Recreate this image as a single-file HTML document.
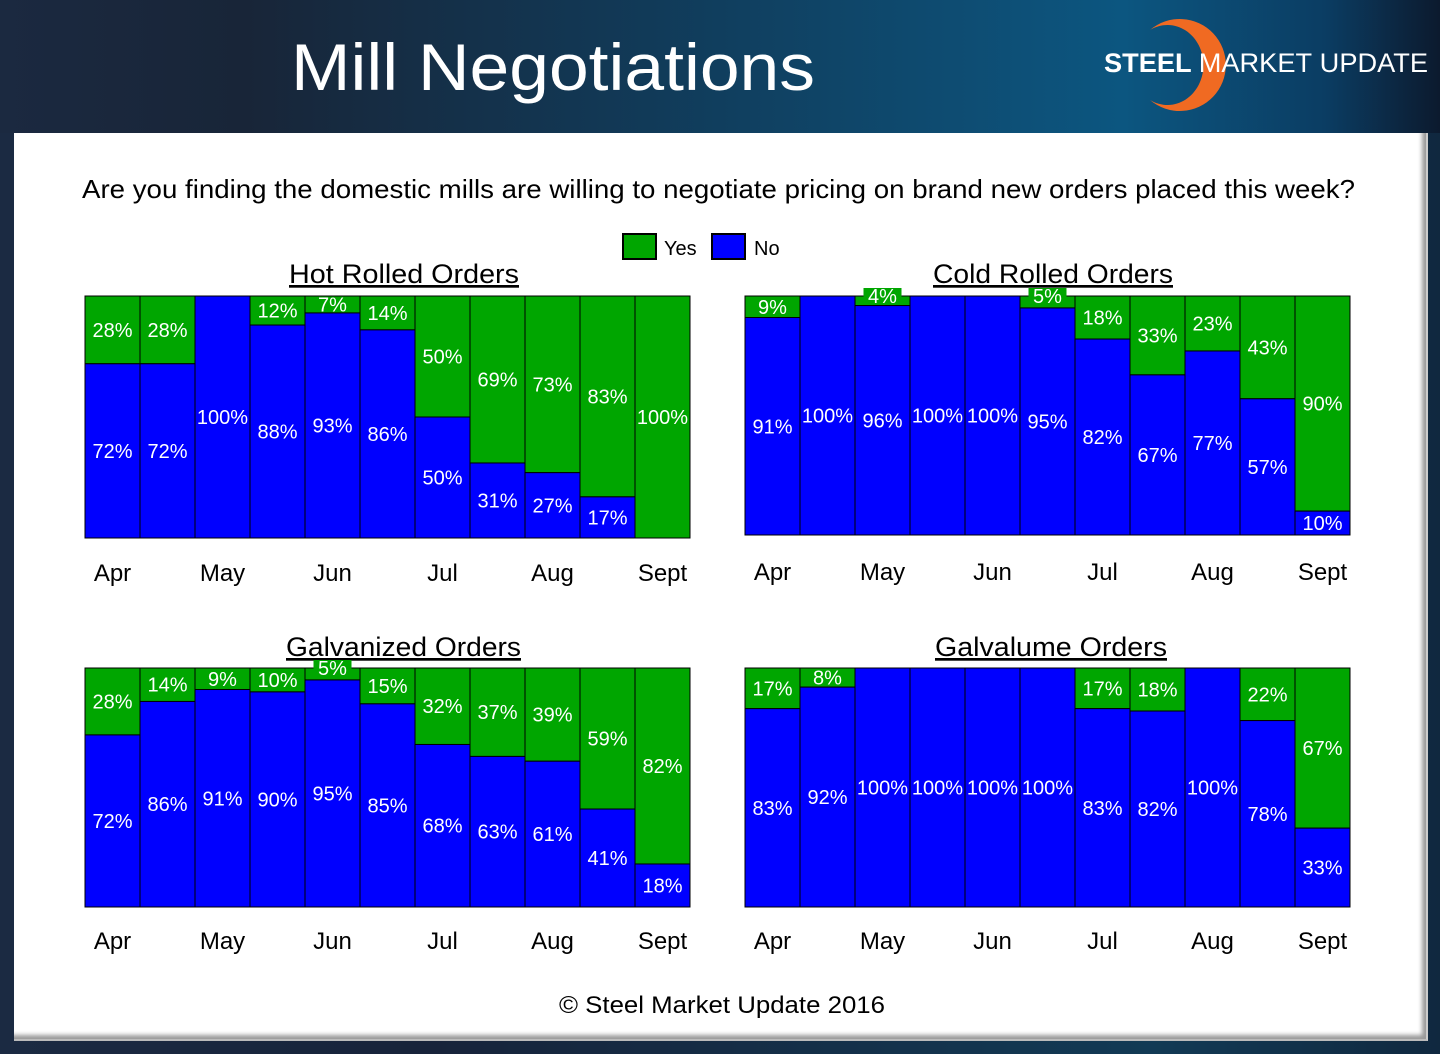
<!DOCTYPE html>
<html><head><meta charset="utf-8"><style>
html,body{margin:0;padding:0;}
body{width:1440px;height:1054px;position:relative;overflow:hidden;background:linear-gradient(90deg,#1b2a42 0%,#17233a 30%,#123a55 80%,#10283f 100%);font-family:"Liberation Sans","DejaVu Sans",sans-serif;}
#header{position:absolute;left:0;top:0;width:1440px;height:133px;background:linear-gradient(90deg,#1b2940 0%,#182538 17%,#113a58 45%,#0c5680 78%,#0b3d63 92%,#0c1a2e 100%);}
#panel{position:absolute;left:14px;top:133px;width:1412px;height:906px;background:#fff;box-shadow:inset -4px -4px 4px #999;border-right:2px solid #ccc;border-bottom:2px solid #bbb;}
svg{position:absolute;left:0;top:0;}
</style></head><body>
<div id="header"></div>
<div id="panel"></div>
<svg id="chart" width="1440" height="1054">
<text x="291" y="90" font-size="66" fill="#fff" textLength="524" lengthAdjust="spacingAndGlyphs">Mill Negotiations</text>
<g>
<path d="M1150,30 A46,46 0 1 1 1150,100 A36,40 0 1 0 1150,30 Z" fill="#f06a22"/>
<text x="1104" y="72" font-size="27" fill="#fff" font-weight="bold" textLength="324" lengthAdjust="spacingAndGlyphs">STEEL <tspan font-weight="normal">MARKET</tspan> <tspan font-weight="normal">UPDATE</tspan></text>
</g>
<text x="82" y="198" font-size="26" fill="#000" textLength="1273" lengthAdjust="spacingAndGlyphs">Are you finding the domestic mills are willing to negotiate pricing on brand new orders placed this week?</text>
<g>
<rect x="623" y="234" width="33" height="25" fill="#00a600" stroke="#000" stroke-width="2"/>
<text x="664" y="255" font-size="20">Yes</text>
<rect x="712" y="234" width="33" height="25" fill="#0000ff" stroke="#000" stroke-width="2"/>
<text x="754" y="255" font-size="20">No</text>
</g>
<text x="559" y="1013" font-size="24" textLength="326" lengthAdjust="spacingAndGlyphs">© Steel Market Update 2016</text>
</svg>
<script>
const months = ["Apr","May","Jun","Jul","Aug","Sept"];
const hotYes = [28,28,0,12,7,14,50,69,73,83,100];
const coldYes = [9,0,4,0,0,5,18,33,23,43,90];
const galvYes = [28,14,9,10,5,15,32,37,39,59,82];
const galvalumeYes = [17,8,0,0,0,0,17,18,0,22,67];
const titles = ["Hot Rolled Orders","Cold Rolled Orders","Galvanized Orders","Galvalume Orders"];
const NS="http://www.w3.org/2000/svg";
const svg=document.getElementById('chart');
function mk(tag,attrs,parent){const e=document.createElementNS(NS,tag);for(const k in attrs)e.setAttribute(k,attrs[k]);(parent||svg).appendChild(e);return e;}
const panels=[
 {data:hotYes,x:85,y:296,w:605,h:242,title:titles[0],tx:289,tw:230,ty:283,my:581,key:'hot-rolled'},
 {data:coldYes,x:745,y:296,w:605,h:239,title:titles[1],tx:933,tw:240,ty:283,my:580,key:'cold-rolled'},
 {data:galvYes,x:85,y:668,w:605,h:239,title:titles[2],tx:286,tw:235,ty:656,my:949,key:'galvanized'},
 {data:galvalumeYes,x:745,y:668,w:605,h:239,title:titles[3],tx:935,tw:232,ty:656,my:949,key:'galvalume'}
];
panels.forEach(p=>{
 const g=mk('g',{});
 
 
 const t=mk('text',{x:p.tx,y:p.ty,'font-size':27,'text-decoration':'underline',textLength:p.tw,lengthAdjust:'spacingAndGlyphs'},g);
 t.textContent=p.title;
 
 
 const n=p.data.length, bw=p.w/n;
 const yS=v=>p.y+p.h*v/100;
 p.data.forEach((yes,i)=>{
  const x=p.x+i*bw, no=100-yes;
  const gr=mk('rect',{x:x,y:p.y,width:bw,height:yS(yes)-p.y,fill:'#00a600',stroke:'#000','stroke-width':1},g);
  
  
  const bl=mk('rect',{x:x,y:yS(yes),width:bw,height:p.y+p.h-yS(yes),fill:'#0000ff',stroke:'#000','stroke-width':1},g);
  
  
  if(yes>0){
   let cy=(p.y+yS(yes))/2+7;
   if(yes<7){
    cy=p.y+7;
    const bg=mk('rect',{x:x+bw/2-19,y:p.y-8,width:38,height:16,fill:'#00a600'},g);
    
    
   }
   const l=mk('text',{x:x+bw/2,y:cy,'font-size':20,fill:'#fff','text-anchor':'middle'},g);l.textContent=yes+'%';
   }
  if(no>0){const l=mk('text',{x:x+bw/2,y:(yS(yes)+p.y+p.h)/2+7,'font-size':20,fill:'#fff','text-anchor':'middle'},g);l.textContent=no+'%';
   }
 });
 months.forEach((m,j)=>{
  const l=mk('text',{x:p.x+(2*j+0.5)*bw,y:p.my,'font-size':24,'text-anchor':'middle'},g);l.textContent=m;
  
  
 });
});
</script>
</body></html>
